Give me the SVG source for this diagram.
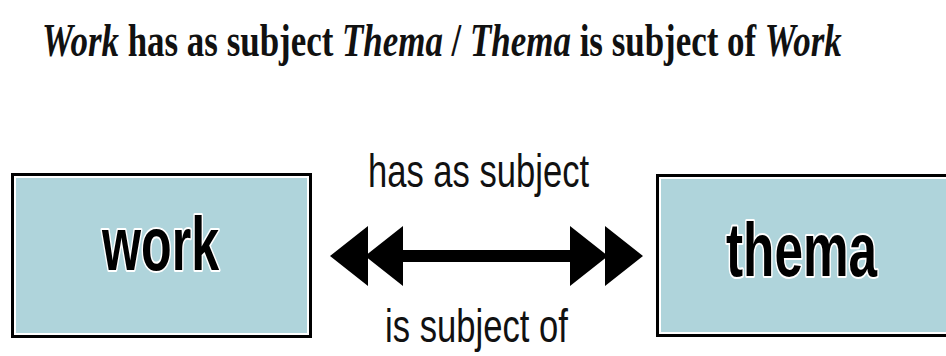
<svg xmlns="http://www.w3.org/2000/svg" width="946" height="356" viewBox="0 0 946 356">
  <style>
    .title { font-family: "Liberation Serif", "Times New Roman", serif; font-weight: bold; font-size: 47px; fill: #111; }
    .it { font-style: italic; }
    .box-outer { fill: #ffffff; stroke: #000000; stroke-width: 3; }
    .box-inner { fill: #afd4db; }
    .node-label { font-family: "Liberation Sans", Arial, sans-serif; font-weight: bold; font-size: 76px; fill: #000; stroke: #ffffff; stroke-width: 4; paint-order: stroke; stroke-linejoin: round; }
    .edge-label { font-family: "Liberation Sans", Arial, sans-serif; font-size: 46px; fill: #111; }
    .edge { stroke: #000; stroke-width: 12; fill: none; }
  </style>
  <defs>
    <marker id="dblhead" viewBox="0 -32 76 64" markerWidth="76" markerHeight="64" markerUnits="userSpaceOnUse" refX="0" refY="0" orient="auto-start-reverse">
      <path d="M0,-30 L38,0 L0,30 Z M35,-30 L73,0 L35,30 Z" fill="#000"/>
    </marker>
  </defs>
  <rect width="946" height="356" fill="#ffffff"/>

  <g id="title">
    <text class="title" transform="translate(42,56) scale(0.743,1)" x="0" y="0"><tspan class="it">Work</tspan> has as subject <tspan class="it">Thema</tspan> / <tspan class="it">Thema</tspan> is subject of <tspan class="it">Work</tspan></text>
  </g>

  <g id="connectors">
    <line class="edge" x1="403" y1="256" x2="570" y2="256" marker-start="url(#dblhead)" marker-end="url(#dblhead)"/>
    <text class="edge-label" transform="translate(368,187) scale(0.752,1)" x="0" y="0">has as subject</text>
    <text class="edge-label" transform="translate(385,342) scale(0.753,1)" x="0" y="0">is subject of</text>
  </g>

  <g id="node-work">
    <rect class="box-outer" x="12.5" y="174.5" width="298" height="162"/>
    <rect class="box-inner" x="16" y="178" width="291" height="155"/>
    <text class="node-label" transform="translate(102,270) scale(0.66,1)" x="0" y="0">work</text>
  </g>

  <g id="node-thema">
    <rect class="box-outer" x="657.5" y="175.5" width="290" height="160"/>
    <rect class="box-inner" x="661" y="179" width="285" height="153"/>
    <text class="node-label" transform="translate(726,276) scale(0.675,1)" x="0" y="0">thema</text>
  </g>
</svg>
